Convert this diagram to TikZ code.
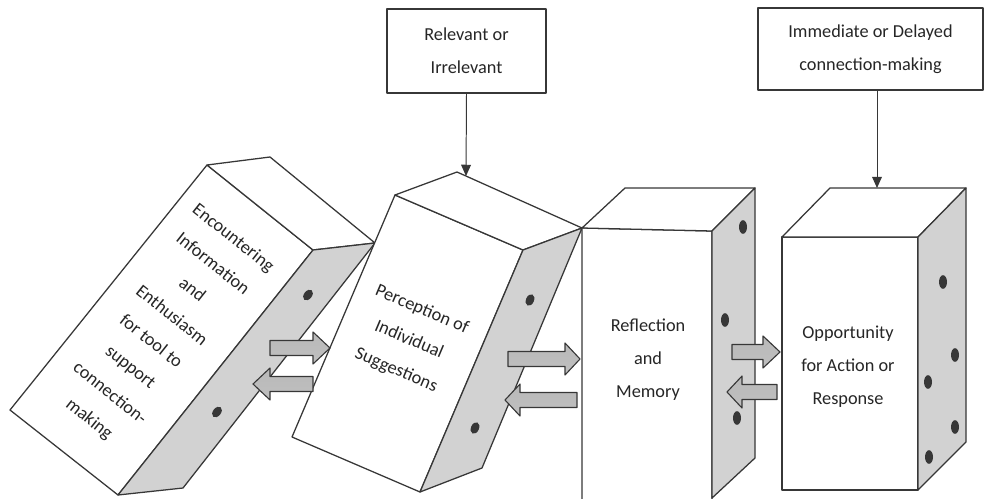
\documentclass[tikz,border=0pt]{standalone}
\usepackage{fontspec}
\setmainfont{Carlito}
\usepackage{tikz}
\usetikzlibrary{arrows.meta}
\definecolor{ink}{RGB}{55,55,55}
\definecolor{sideface}{RGB}{210,210,210}
\tikzset{
  face/.style={draw=ink, fill=white},
  side/.style={draw=ink, fill=sideface},
  topbox/.style={draw=ink, fill=white, align=center, text=black!85, font=\fontsize{13}{23.5}\selectfont},
  lbl/.style={align=center, text=black!85, font=\fontsize{13}{23.5}\selectfont},
  pointer/.style={ink, line width=0.7pt, -{Triangle[width=7pt,length=8pt]}},
  fatarr/.style={draw=ink, line width=0.8pt, top color=gray!55, middle color=gray!6, bottom color=gray!50}
}

\begin{document}
\begin{tikzpicture}[x=0.025cm, y=-0.025cm, line width=0.9pt, line join=round]
\clip (0,0) rectangle (985,499);
\node[topbox, minimum width=3.975cm, minimum height=2.1cm] (relbox) at (466.5,51) {Relevant or\\Irrelevant};
\node[topbox, minimum width=5.625cm, minimum height=2.05cm] (immbox) at (870.5,49) {Immediate or Delayed\\connection-making};

\filldraw[face] (207,165) -- (313,250) -- (118,495) -- (10,410) -- cycle;
\filldraw[face] (207,165) -- (270,157) -- (375,243) -- (313,250) -- cycle;
\filldraw[side] (313,250) -- (375,243) -- (183,488) -- (118,495) -- cycle;

\filldraw[face] (395,195) -- (523,250) -- (420,492) -- (292,437) -- cycle;
\filldraw[face] (395,195) -- (457,172) -- (582,228) -- (523,250) -- cycle;
\filldraw[side] (523,250) -- (582,228) -- (482,468) -- (420,492) -- cycle;

\filldraw[face] (582,228) -- (712,231) -- (712,505) -- (582,505) -- cycle;
\filldraw[face] (582,228) -- (625,188) -- (755,188) -- (712,231) -- cycle;
\filldraw[side] (712,231) -- (755,188) -- (755,458) -- (712,498) -- cycle;

\filldraw[face] (782,237) -- (918,237) -- (918,490) -- (782,490) -- cycle;
\filldraw[face] (782,237) -- (830,188) -- (966,188) -- (918,237) -- cycle;
\filldraw[side] (918,237) -- (966,188) -- (966,442) -- (918,490) -- cycle;

\foreach \x/\y in {308/295, 217/412}
  \fill[ink, rotate around={-38:(\x,\y)}] (\x,\y) ellipse [x radius=0.1cm, y radius=0.15cm];
\foreach \x/\y in {530/300, 475/428}
  \fill[ink, rotate around={-23:(\x,\y)}] (\x,\y) ellipse [x radius=0.1cm, y radius=0.15cm];
\foreach \x/\y in {743/227, 725/320, 737/418, 943/282, 955/355, 928/382, 955/427, 929/457}
  \fill[ink] (\x,\y) ellipse [x radius=0.1cm, y radius=0.17cm];

\foreach \t/\h/\p/\y in {270/313/330/348, 313/270/253/384, 508/565/580/359, 577/520/505/400, 732/763/780/352, 777/742/727/392}
  \draw[fatarr] (\t,\y-7.5) -- (\h,\y-7.5) -- (\h,\y-16) -- (\p,\y) -- (\h,\y+16) -- (\h,\y+7.5) -- (\t,\y+7.5) -- cycle;

\node[lbl, rotate=-38.5] (enc) at (161,329) {Encountering\\Information\\and\\Enthusiasm\\for tool to\\support\\connection-\\making};
\node[lbl, rotate=-23] (perc) at (409,340) {Perception of\\Individual\\Suggestions};
\node[lbl] (refl) at (648,360) {Reflection\\and\\Memory};
\node[lbl] (opp) at (848,367) {Opportunity\\for Action or\\Response};

\coordinate (b2top) at (466,176);
\coordinate (b4top) at (877,188);
\draw[pointer] (relbox.south) -- (b2top);
\draw[pointer] (immbox.south -| b4top) -- (b4top);
\end{tikzpicture}
\end{document}
